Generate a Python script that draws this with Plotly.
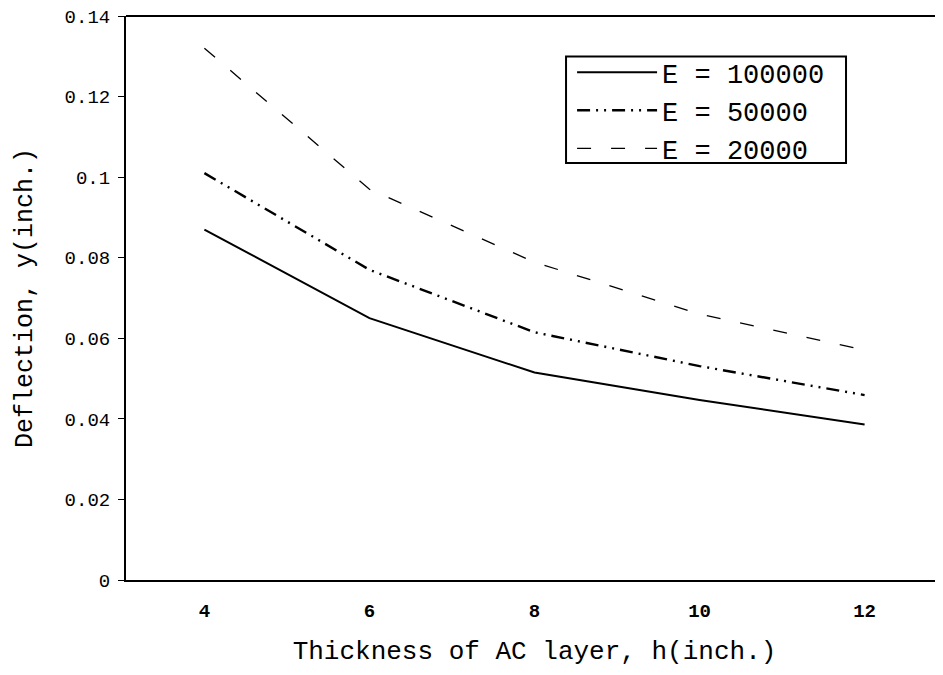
import plotly.graph_objects as go

thickness = [4, 6, 8, 10, 12]
e100000 = [0.087, 0.065, 0.0515, 0.0447, 0.0386]
e50000 = [0.101, 0.077, 0.0615, 0.0531, 0.0459]
e20000 = [0.132, 0.097, 0.0789, 0.0660, 0.0571]
names = ["E = 100000", "E = 50000", "E = 20000"]
y_ticks = [0, 0.02, 0.04, 0.06, 0.08, 0.1, 0.12, 0.14]
y_tick_text = ["0", "0.02", "0.04", "0.06", "0.08", "0.1", "0.12", "0.14"]

font = "Liberation Mono, Courier New, monospace"

fig = go.Figure()
fig.add_trace(go.Scatter(x=thickness, y=e100000, name=names[0], mode="lines",
                         line=dict(color="black", width=2, dash="solid")))
fig.add_trace(go.Scatter(x=thickness, y=e50000, name=names[1], mode="lines",
                         line=dict(color="black", width=2.4, dash="13px,6px,2px,6px,2px,6px")))
fig.add_trace(go.Scatter(x=thickness, y=e20000, name=names[2], mode="lines",
                         line=dict(color="black", width=1.3, dash="14px,20px")))

fig.update_layout(
    width=935, height=659,
    margin=dict(l=118, r=0, t=8, b=87),
    paper_bgcolor="white", plot_bgcolor="white",
    font=dict(family=font, color="black", size=19),
    showlegend=True,
    legend=dict(x=0.546, y=0.943, xanchor="left", yanchor="top",
                borderwidth=0, bgcolor="rgba(0,0,0,0)",
                font=dict(family=font, size=27, color="black"),
                tracegroupgap=0, itemwidth=80),
    xaxis=dict(range=[3.05, 12.95], tickvals=thickness, ticktext=[str(t) for t in thickness],
               showgrid=False, zeroline=False, showline=True, linecolor="black", linewidth=2,
               mirror=False, ticks="", ticklabelstandoff=12, automargin=False,
               tickfont=dict(family=font, size=19, weight="bold"),
               title=dict(text="Thickness of AC layer, h(inch.)", font=dict(family=font, size=26), standoff=26)),
    yaxis=dict(range=[0, 0.14], tickvals=y_ticks, ticktext=y_tick_text,
               showgrid=False, zeroline=False, showline=True, linecolor="black", linewidth=2,
               ticks="outside", ticklen=6, tickcolor="black", tickwidth=1,
               ticklabelstandoff=4, ticklabeloverflow="allow", automargin=False,
               tickfont=dict(family=font, size=19),
               title=dict(text="Deflection, y(inch.)", font=dict(family=font, size=25), standoff=25)),
)
fig.add_shape(type="line", xref="paper", yref="paper", x0=0, x1=1, y0=1, y1=1,
              line=dict(color="black", width=2))
fig.add_shape(type="rect", xref="paper", yref="paper", x0=0.5386, x1=0.8813, y0=0.7395, y1=0.9283,
              line=dict(color="black", width=2), fillcolor="white", layer="above")

fig.write_html("out.html")
